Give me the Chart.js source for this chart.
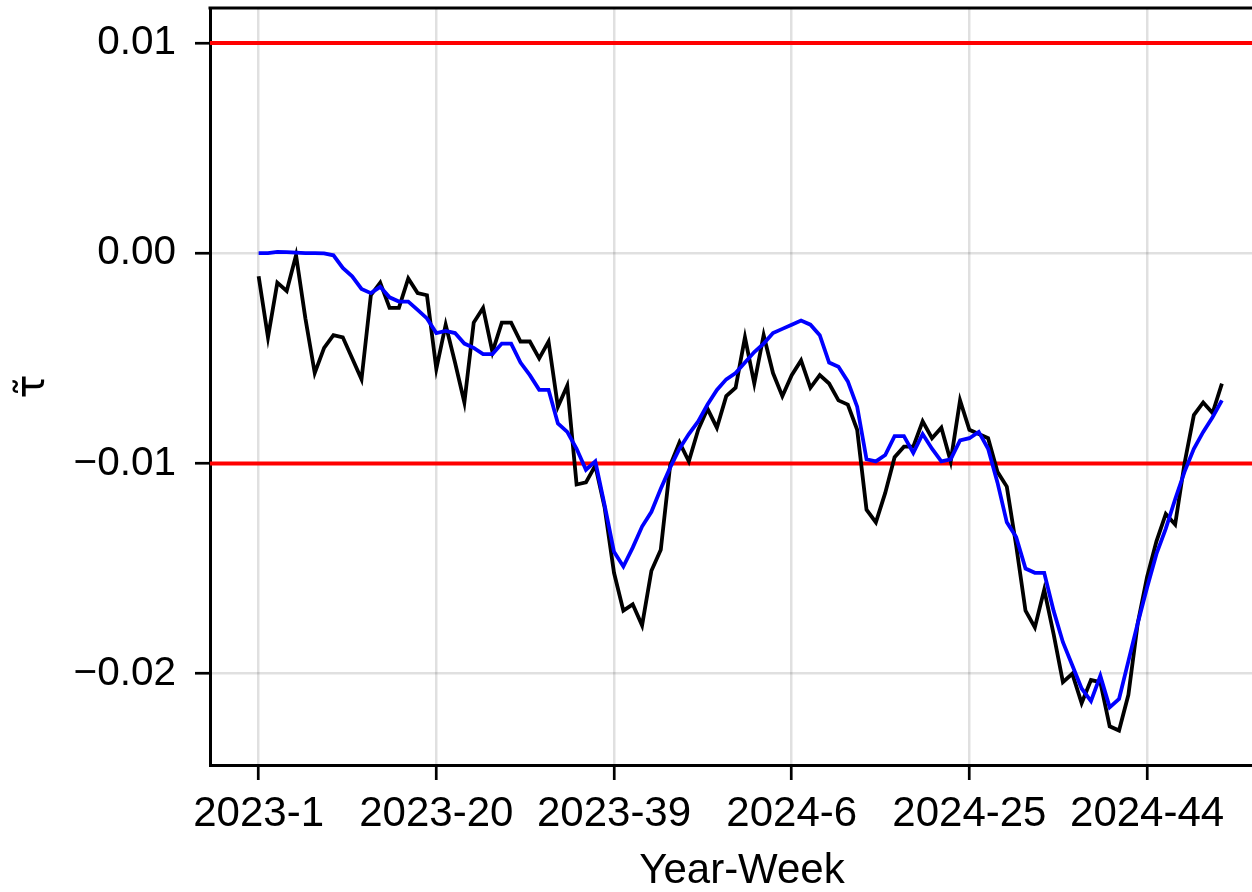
<!DOCTYPE html>
<html>
<head>
<meta charset="utf-8">
<script src="https://cdn.jsdelivr.net/npm/chart.js@4.4.1/dist/chart.umd.min.js"></script>
<style>
  html, body { margin: 0; padding: 0; background: #ffffff; overflow: hidden; width: 1252px; height: 892px; }
  canvas { display: block; }
</style>
</head>
<body>
<canvas id="chart" width="1274" height="892"></canvas>
<script>
// Year-week categories, 2023-1 … 2024-52
const years = [2023, 2024];
const weeksPerYear = 52;
const weekLabels = [];
for (const yr of years) {
  for (let w = 1; w <= weeksPerYear; w++) weekLabels.push(yr + '-' + w);
}

// Weekly estimate of tau (black)
const tauWeekly = [
  -0.0011, -0.0040, -0.0014, -0.0018, -0.0001, -0.0031, -0.0057, -0.0045, -0.0039, -0.0040,
  -0.0050, -0.0060, -0.0020, -0.0014, -0.0026, -0.0026, -0.0012, -0.0019, -0.0020, -0.0055,
  -0.0034, -0.0052, -0.0071, -0.0033, -0.0026, -0.0047, -0.0033, -0.0033, -0.0042, -0.0042,
  -0.0050, -0.0042, -0.0073, -0.0063, -0.0110, -0.0109, -0.0101, -0.0121, -0.0152, -0.0170,
  -0.0167, -0.0177, -0.0151, -0.0141, -0.0101, -0.0090, -0.0099, -0.0084, -0.0074, -0.0083,
  -0.0068, -0.0064, -0.0040, -0.0062, -0.0039, -0.0057, -0.0068, -0.0058, -0.0051, -0.0064,
  -0.0058, -0.0062, -0.0070, -0.0072, -0.0084, -0.0122, -0.0128, -0.0114, -0.0097, -0.0092,
  -0.0092, -0.0080, -0.0088, -0.0083, -0.0099, -0.0070, -0.0084, -0.0086, -0.0088, -0.0104,
  -0.0111, -0.0139, -0.0170, -0.0178, -0.0160, -0.0181, -0.0204, -0.0200, -0.0214, -0.0203,
  -0.0204, -0.0225, -0.0227, -0.0210, -0.0176, -0.0154, -0.0137, -0.0124, -0.0129, -0.0100,
  -0.0077, -0.0071, -0.0076, -0.0062
];

// Smoothed estimate of tau (blue)
const tauSmoothed = [
   0.0000,  0.0000,  0.00006, 0.00005, 0.00003, 0.0000,  0.0000, -0.00001, -0.0001, -0.0007,
  -0.0011, -0.0017, -0.0019, -0.0016, -0.0021, -0.0023, -0.0023, -0.0027, -0.0031, -0.0038,
  -0.0037, -0.0038, -0.0043, -0.0045, -0.0048, -0.0048, -0.0043, -0.0043, -0.0052, -0.0058,
  -0.0065, -0.0065, -0.0081, -0.0085, -0.0093, -0.0103, -0.0099, -0.0120, -0.0142, -0.0149,
  -0.0140, -0.0130, -0.0123, -0.0112, -0.0102, -0.0093, -0.0086, -0.0080, -0.0072, -0.0065,
  -0.0060, -0.0057, -0.0052, -0.0047, -0.0043, -0.0038, -0.0036, -0.0034, -0.0032, -0.0034,
  -0.0039, -0.0052, -0.0054, -0.0061, -0.0073, -0.0098, -0.0099, -0.0096, -0.0087, -0.0087,
  -0.0095, -0.0086, -0.0093, -0.0099, -0.0098, -0.0089, -0.0088, -0.0085, -0.0093, -0.0109,
  -0.0128, -0.0135, -0.0150, -0.0152, -0.0152, -0.0170, -0.0185, -0.0196, -0.0207, -0.0213,
  -0.0201, -0.0216, -0.0212, -0.0194, -0.0176, -0.0159, -0.0143, -0.0131, -0.0117, -0.0104,
  -0.0093, -0.0085, -0.0078, -0.0070
];

// Horizontal reference levels
const thresholds = [0.01, -0.01];

// Axis ticks
const xTickLabels = ['2023-1', '2023-20', '2023-39', '2024-6', '2024-25', '2024-44'];
const yTickValues = [0.01, 0.00, -0.01, -0.02];
const yTickLabels = ['0.01', '0.00', '\u22120.01', '\u22120.02'];

const X_MIN = -5.2, X_MAX = 108.57;
const Y_MIN = -0.02434, Y_MAX = 0.01166;

const FONT = 'Liberation Sans, Arial, Helvetica, sans-serif';
const GRID = 'rgba(0,0,0,0.12)';

const toPoints = arr => arr.map((v, i) => ({ x: i, y: v }));
const xTickPositions = xTickLabels.map(l => weekLabels.indexOf(l));

const thresholdSets = thresholds.map(t => ({
  data: [{ x: X_MIN, y: t }, { x: X_MAX, y: t }],
  borderColor: '#ff0000',
  borderWidth: 4,
  pointRadius: 0,
  order: 3
}));

// Top edge of the plot frame
const frameTop = {
  id: 'frameTop',
  afterDraw(chart) {
    const { ctx, chartArea: a } = chart;
    ctx.save();
    ctx.strokeStyle = '#000';
    ctx.lineWidth = 3;
    ctx.beginPath();
    ctx.moveTo(a.left - 1.5, a.top);
    ctx.lineTo(a.right, a.top);
    ctx.stroke();
    ctx.restore();
  }
};

new Chart(document.getElementById('chart'), {
  type: 'line',
  data: {
    datasets: [
      {
        data: toPoints(tauSmoothed),
        borderColor: '#0000ff',
        borderWidth: 3.8,
        pointRadius: 0,
        tension: 0,
        order: 1
      },
      {
        data: toPoints(tauWeekly),
        borderColor: '#000000',
        borderWidth: 3.8,
        pointRadius: 0,
        tension: 0,
        order: 2
      },
      ...thresholdSets
    ]
  },
  options: {
    responsive: false,
    animation: false,
    events: [],
    layout: { padding: { top: 8, left: 0, right: 0, bottom: 0 } },
    plugins: { legend: { display: false }, tooltip: { enabled: false } },
    scales: {
      x: {
        type: 'linear',
        min: X_MIN,
        max: X_MAX,
        afterBuildTicks(s) { s.ticks = xTickPositions.map(v => ({ value: v })); },
        afterFit(s) { s.height = 127; s.paddingLeft = 0; s.paddingRight = 0; },
        ticks: {
          autoSkip: false,
          maxRotation: 0,
          padding: 9,
          color: '#000',
          font: { family: FONT, size: 42 },
          callback: v => weekLabels[v]
        },
        grid: { color: GRID, lineWidth: 2.5, tickColor: '#000', tickLength: 15, tickWidth: 2.7 },
        border: { display: true, color: '#000', width: 3 },
        title: {
          display: true,
          text: 'Year-Week',
          color: '#000',
          font: { family: FONT, size: 42, lineHeight: 1 },
          padding: { top: 0, bottom: 0 }
        }
      },
      y: {
        type: 'linear',
        min: Y_MIN,
        max: Y_MAX,
        afterBuildTicks(s) { s.ticks = yTickValues.map(v => ({ value: v })); },
        afterFit(s) { s.width = 210; s.paddingTop = 0; s.paddingBottom = 0; },
        ticks: {
          padding: 19,
          color: '#000',
          font: { family: FONT, size: 40.5 },
          callback: v => yTickLabels[yTickValues.findIndex(t => Math.abs(t - v) < 1e-9)]
        },
        grid: { color: GRID, lineWidth: 2.5, tickColor: '#000', tickLength: 15, tickWidth: 2.7 },
        border: { display: true, color: '#000', width: 3 },
        title: {
          display: true,
          text: '\u03C4\u0303',
          color: '#000',
          font: { family: 'DejaVu Sans, sans-serif', size: 40, lineHeight: 1 },
          padding: { top: 14, bottom: 0 }
        }
      }
    }
  },
  plugins: [frameTop]
});
</script>
</body>
</html>
